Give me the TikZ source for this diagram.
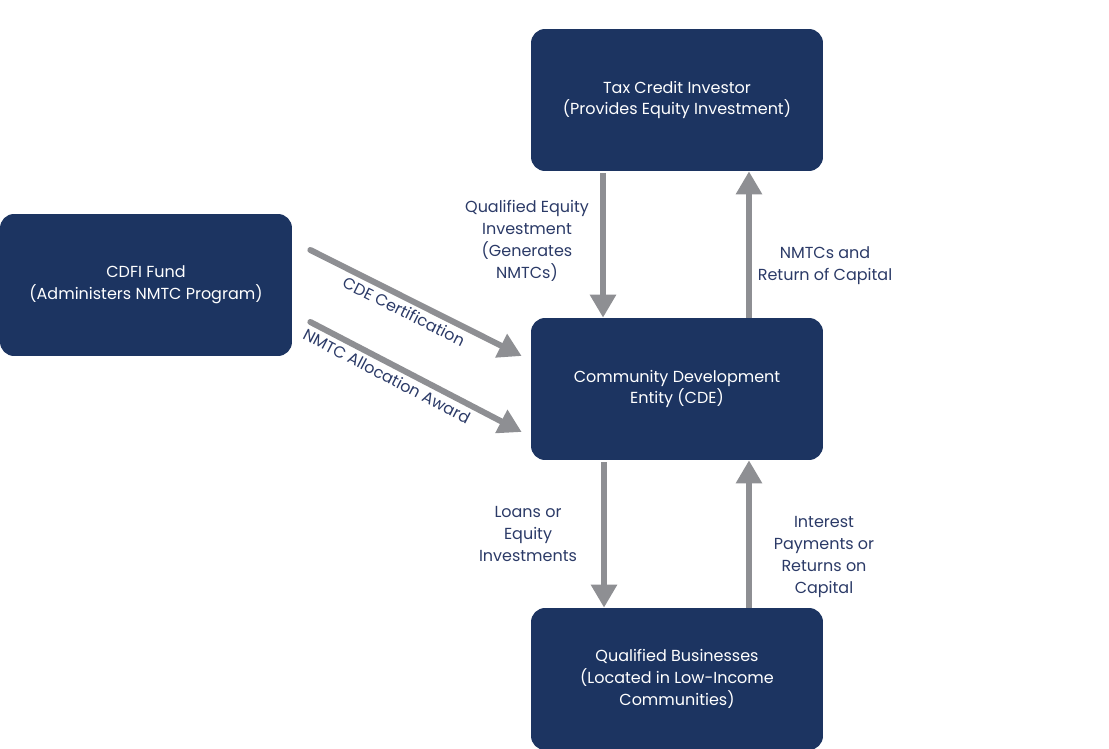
\documentclass[tikz,border=0pt]{standalone}
\usepackage{fontspec}
\setmainfont{Poppins}
\usetikzlibrary{arrows.meta}
\definecolor{boxnavy}{HTML}{1C3461}
\definecolor{labelnavy}{HTML}{2B3A67}
\definecolor{flowgray}{HTML}{8E8F93}
\begin{document}
\begin{tikzpicture}[x=0.02cm, y=-0.02cm,
        entity/.style={fill=boxnavy, text=white, rounded corners=0.28cm, minimum width=5.84cm, minimum height=2.84cm, align=center, font=\fontsize{9.1}{12.5}\selectfont},
        flow/.style={-{Triangle[width=0.5cm, length=0.46cm]}, line width=0.12cm, flowgray},
        flowlabel/.style={text=labelnavy, align=center, font=\fontsize{9.1}{12.5}\selectfont}
    ]
        \useasboundingbox (0,0) rectangle (1109,749);

        % Soggetti del programma
        \node[entity] (tci) at (677,100) {Tax Credit Investor\\(Provides Equity Investment)};
        \node[entity] (cdfi) at (146,285) {CDFI Fund\\(Administers NMTC Program)};
        \node[entity] (cde) at (677,389) {Community Development\\Entity (CDE)};
        \node[entity] (qb) at (677,679) {Qualified Businesses\\(Located in Low-Income\\Communities)};

        % Flussi tra investitore e CDE
        \draw[flow] ([xshift=-1.48cm, yshift=-0.04cm]tci.south) -- ([xshift=-1.48cm]cde.north);
        \draw[flow] ([xshift=1.44cm]cde.north) -- ([xshift=1.44cm]tci.south);
        \node[flowlabel] (qei) at (527,241) {Qualified Equity\\Investment\\(Generates\\NMTCs)};
        \node[flowlabel] (ret) at (825,266) {NMTCs and\\Return of Capital};

        % Flussi tra CDE e imprese
        \draw[flow] ([xshift=-1.46cm, yshift=-0.04cm]cde.south) -- ([xshift=-1.46cm]qb.north);
        \draw[flow] ([xshift=1.44cm]qb.north) -- ([xshift=1.44cm]cde.south);
        \node[flowlabel] (loans) at (528,534) {Loans or\\Equity\\Investments};
        \node[flowlabel] (interest) at (824,557) {Interest\\Payments or\\Returns on\\Capital};

        % Certificazione e allocazione dal CDFI Fund
        \draw[flow, line cap=round] ([xshift=0.36cm, yshift=0.7cm]cdfi.east) -- ([xshift=-0.18cm, yshift=0.66cm]cde.west)
            node[pos=0.47, below, sloped, flowlabel, inner sep=2pt] (cert) {CDE Certification};
        \draw[flow, line cap=round] ([xshift=0.36cm, yshift=-0.74cm]cdfi.east) -- ([xshift=-0.18cm, yshift=-0.86cm]cde.west)
            node[pos=0.39, below, sloped, flowlabel, inner sep=2pt] (award) {NMTC Allocation Award};
    \end{tikzpicture}
\end{document}
